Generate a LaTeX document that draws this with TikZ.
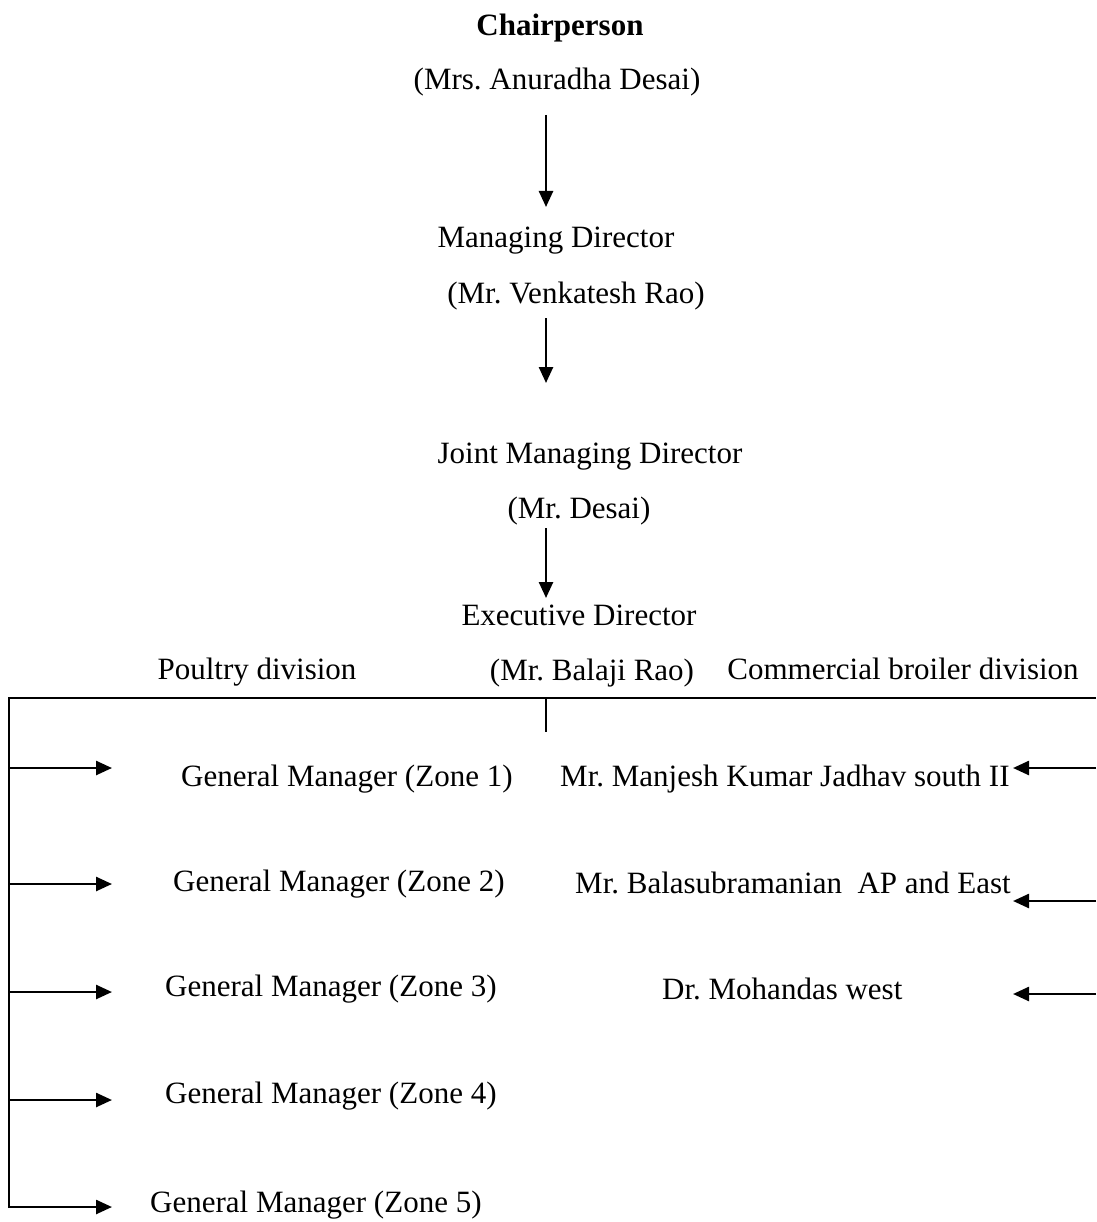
\documentclass[tikz,border=0pt]{standalone}
\usepackage{fontspec}
\setmainfont{Liberation Serif}
\usetikzlibrary{arrows.meta}
\frenchspacing
\begin{document}
\begin{tikzpicture}[x=1pt,y=-1pt,
  lbl/.style={font=\fontsize{31}{36}\selectfont, inner sep=0pt, anchor=base},
  lblw/.style={lbl, anchor=base west},
  conn/.style={line width=2.5pt},
  arr/.style={conn, -{Triangle[length=16pt,width=14pt]}}]
\useasboundingbox (0,0) rectangle (1096,1222);
% top chain
\node[lbl, font=\fontsize{31}{36}\selectfont\bfseries] (chair) at (560,36) {Chairperson};
\node[lbl] (chairname) at (557,90) {(Mrs. Anuradha Desai)};
\node[lbl] (md) at (556,248) {Managing Director};
\node[lbl] (mdname) at (576,303) {(Mr. Venkatesh Rao)};
\node[lbl] (jmd) at (590,463) {Joint Managing Director};
\node[lbl] (jmdname) at (579,518) {(Mr. Desai)};
\node[lbl] (ed) at (579,625) {Executive Director};
\node[lbl] (edname) at (592,680) {(Mr. Balaji Rao)};
\node[lbl] (poultry) at (257,679) {Poultry division};
\node[lbl] (broiler) at (903,679) {Commercial broiler division};
% zones
\node[lblw] (z1) at (181,786) {General Manager (Zone 1)};
\node[lblw] (z2) at (173,891) {General Manager (Zone 2)};
\node[lblw] (z3) at (165,996) {General Manager (Zone 3)};
\node[lblw] (z4) at (165,1103) {General Manager (Zone 4)};
\node[lblw] (z5) at (150,1212) {General Manager (Zone 5)};
% broiler managers
\node[lblw] (r1) at (560,786) {Mr. Manjesh Kumar Jadhav south II};
\node[lblw] (r2) at (575,893) {Mr. Balasubramanian\hspace{0.25em} AP and East};
\node[lblw] (r3) at (662,999) {Dr. Mohandas west};
% connector points
\coordinate (a1s) at (546,115); \coordinate (a1e) at (546,207);
\coordinate (a2s) at (546,318); \coordinate (a2e) at (546,383);
\coordinate (a3s) at (546,528); \coordinate (a3e) at (546,598);
\coordinate (barL) at (9,698); \coordinate (barR) at (1096,698);
\coordinate (stubT) at (546,698); \coordinate (stubB) at (546,732);
\coordinate (spineB) at (9,1208);
\draw[arr] (a1s) -- (a1e);
\draw[arr] (a2s) -- (a2e);
\draw[arr] (a3s) -- (a3e);
\draw[conn] (spineB) -- (barL) -- (barR);
\draw[conn] (stubT) -- (stubB);
\foreach \y/\n in {768/1,884/2,992/3,1100/4,1207/5}{
  \coordinate (lz\n) at (9,\y);
  \coordinate (lt\n) at (112,\y);
  \draw[arr] (lz\n) -- (lt\n);
}
\foreach \y/\n in {768/1,901/2,994/3}{
  \coordinate (rz\n) at (1096,\y);
  \coordinate (rt\n) at (1013,\y);
  \draw[arr] (rz\n) -- (rt\n);
}
\end{tikzpicture}
\end{document}
